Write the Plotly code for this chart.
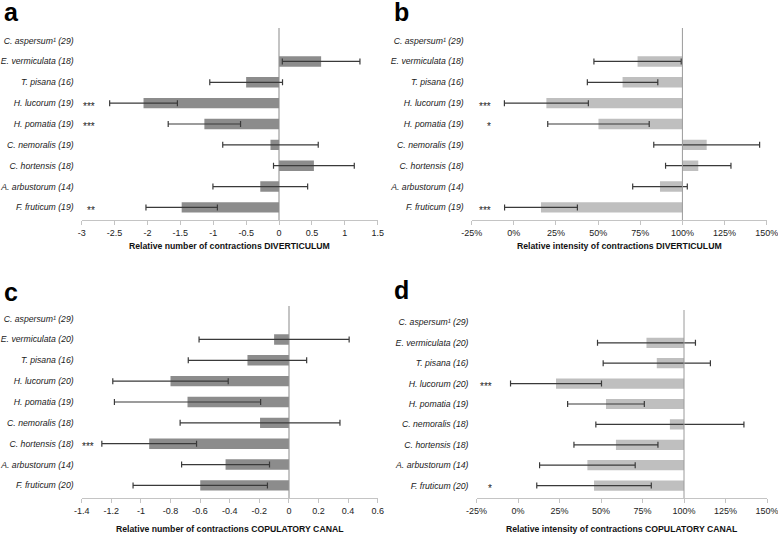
import plotly.graph_objects as go

W, H = 778, 535

species_top = ["C. aspersum¹ (29)", "E. vermiculata (18)", "T. pisana (16)", "H. lucorum (19)",
               "H. pomatia (19)", "C. nemoralis (19)", "C. hortensis (18)", "A. arbustorum (14)",
               "F. fruticum (19)"]
species_bottom = ["C. aspersum¹ (29)", "E. vermiculata (20)", "T. pisana (16)", "H. lucorum (20)",
                  "H. pomatia (19)", "C. nemoralis (18)", "C. hortensis (18)", "A. arbustorum (14)",
                  "F. fruticum (20)"]

# a: relative number of contractions, diverticulum
num_div = [None, 0.64, -0.50, -2.06, -1.135, -0.13, 0.53, -0.285, -1.48]
num_div_err = [None, 0.59, 0.553, 0.515, 0.55, 0.726, 0.614, 0.72, 0.543]
stars_a = ["", "", "", "***", "***", "", "", "", "**"]

# b: relative intensity, diverticulum (%)
int_div = [None, 73.4, 64.5, 19.3, 50.2, 114.4, 109.4, 86.7, 16.1]
int_div_err = [None, 25.9, 20.9, 24.9, 30.1, 31.4, 19.4, 16.2, 21.6]
stars_b = ["", "", "", "***", "*", "", "", "", "***"]

# c: relative number of contractions, copulatory canal
num_cc = [None, -0.10, -0.28, -0.80, -0.685, -0.195, -0.944, -0.428, -0.599]
num_cc_err = [None, 0.507, 0.40, 0.39, 0.494, 0.54, 0.32, 0.297, 0.454]
stars_c = ["", "", "", "", "", "", "***", "", ""]

# d: relative intensity, copulatory canal (%)
int_cc = [None, 77.4, 83.6, 22.9, 53.0, 91.5, 59.0, 41.8, 45.8]
int_cc_err = [None, 29.5, 32.3, 27.4, 23.1, 44.6, 25.3, 28.8, 34.5]
stars_d = ["", "", "", "***", "", "", "", "", "*"]

num_ticks_a = [-3, -2.5, -2, -1.5, -1, -0.5, 0, 0.5, 1, 1.5]
num_ticks_a_text = ["-3", "-2.5", "-2", "-1.5", "-1", "-0.5", "0", "0.5", "1", "1.5"]
num_ticks_c = [-1.4, -1.2, -1, -0.8, -0.6, -0.4, -0.2, 0, 0.2, 0.4, 0.6]
num_ticks_c_text = ["-1.4", "-1.2", "-1", "-0.8", "-0.6", "-0.4", "-0.2", "0", "0.2", "0.4", "0.6"]
pct_ticks = [-25, 0, 25, 50, 75, 100, 125, 150]
pct_ticks_text = ["-25%", "0%", "25%", "50%", "75%", "100%", "125%", "150%"]

titles = ["Relative number of contractions DIVERTICULUM",
          "Relative intensity of contractions DIVERTICULUM",
          "Relative number of contractions COPULATORY CANAL",
          "Relative intensity of contractions COPULATORY CANAL"]
letters = ["a", "b", "c", "d"]

DARK = "#8c8c8c"
LIGHT = "#bfbfbf"
ERR = "#3a3a3a"
FONT = "Liberation Sans"


def px(x):
    return x / W


def py(y):
    return 1 - y / H


panels = [
    dict(cats=species_top, vals=num_div, errs=num_div_err, stars=stars_a, base=0, color=DARK,
         xd=(81.7, 377.7), yd=(28, 220), rng=[-3, 1.5], tv=num_ticks_a, tt=num_ticks_a_text,
         star_x=-2.77, title_y=246, letter=(2, 12.5)),
    dict(cats=species_top, vals=int_div, errs=int_div_err, stars=stars_b, base=100, color=LIGHT,
         xd=(471.7, 766.7), yd=(28, 220), rng=[-25, 150], tv=pct_ticks, tt=pct_ticks_text,
         star_x=-12.4, title_y=246, letter=(392, 11.5)),
    dict(cats=species_bottom, vals=num_cc, errs=num_cc_err, stars=stars_c, base=0, color=DARK,
         xd=(81.7, 377.7), yd=(306, 498), rng=[-1.4, 0.6], tv=num_ticks_c, tt=num_ticks_c_text,
         star_x=-1.303, title_y=528.5, letter=(2, 292)),
    dict(cats=species_bottom, vals=int_cc, errs=int_cc_err, stars=stars_d, base=100, color=LIGHT,
         xd=(476.5, 767), yd=(310, 498), rng=[-25, 150], tv=pct_ticks, tt=pct_ticks_text,
         star_x=-14.5, title_y=528.5, letter=(392, 290)),
]

fig = go.Figure()
annotations = []
shapes = []

for i, p in enumerate(panels):
    n = "" if i == 0 else str(i + 1)
    xa, ya = "x" + n, "y" + n
    lengths = [None if v is None else v - p["base"] for v in p["vals"]]
    fig.add_trace(go.Bar(
        x=lengths, y=p["cats"], base=p["base"], orientation="h",
        marker=dict(color=p["color"], line=dict(width=0)), width=0.5,
        xaxis=xa, yaxis=ya, showlegend=False, hoverinfo="skip"))
    fig.add_trace(go.Scatter(
        x=p["vals"], y=p["cats"], mode="markers", marker=dict(size=1, opacity=0),
        error_x=dict(type="data", array=p["errs"], color=ERR, thickness=1.2, width=3),
        xaxis=xa, yaxis=ya, showlegend=False, hoverinfo="skip"))

    x0, x1 = px(p["xd"][0]), px(p["xd"][1])
    y0, y1 = py(p["yd"][1]), py(p["yd"][0])
    fig.layout["xaxis" + n] = dict(
        domain=[x0, x1], anchor=ya, range=p["rng"], tickvals=p["tv"], ticktext=p["tt"],
        showgrid=False, showline=True, linecolor="#c4c4c4", linewidth=1,
        ticks="outside", ticklen=4, tickcolor="#c4c4c4", automargin=False,
        ticklabeloverflow="allow",
        tickfont=dict(family=FONT, size=9, color="#222"),
        zeroline=(p["base"] == 0), zerolinecolor="#c4c4c4", zerolinewidth=2, fixedrange=True)
    fig.layout["yaxis" + n] = dict(
        domain=[y0, y1], anchor=xa, type="category", categoryorder="array",
        categoryarray=p["cats"], autorange="reversed", showgrid=False, showline=False,
        zeroline=False, ticks="", ticklabelstandoff=7, automargin=False,
        tickfont=dict(family=FONT, size=8.7, color="#222", style="italic"), fixedrange=True)

    if p["base"] != 0:
        shapes.append(dict(type="line", xref=xa, yref=ya + " domain", x0=p["base"], x1=p["base"],
                           y0=0, y1=1, line=dict(color="#9a9a9a", width=1), layer="above"))

    for cat, s in zip(p["cats"], p["stars"]):
        if s:
            annotations.append(dict(x=p["star_x"], y=cat, xref=xa, yref=ya, text=s,
                                    showarrow=False, xanchor="right", yanchor="middle", yshift=-3,
                                    font=dict(family=FONT, size=10, color="#222")))

    annotations.append(dict(x=(x0 + x1) / 2, y=py(p["title_y"]), xref="paper", yref="paper",
                            text="<b>" + titles[i] + "</b>", showarrow=False,
                            xanchor="center", yanchor="middle",
                            font=dict(family=FONT, size=8.7, color="#111")))
    annotations.append(dict(x=px(p["letter"][0]), y=py(p["letter"][1]), xref="paper", yref="paper",
                            text="<b>" + letters[i] + "</b>", showarrow=False,
                            xanchor="left", yanchor="middle",
                            font=dict(family=FONT, size=25, color="#000")))

fig.update_layout(
    width=W, height=H, margin=dict(l=0, r=0, t=0, b=0, autoexpand=False),
    paper_bgcolor="white", plot_bgcolor="white", bargap=0.5,
    annotations=annotations, shapes=shapes)

fig.write_html("out.html", config={"displayModeBar": False},
               post_script="document.body.style.margin='0';document.body.style.overflow='hidden';")
